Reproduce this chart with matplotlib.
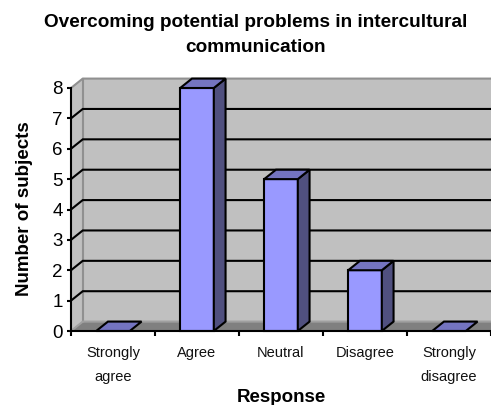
import matplotlib
matplotlib.use('Agg')
import matplotlib.pyplot as plt
from matplotlib.patches import Polygon

categories = ['Strongly\nagree', 'Agree', 'Neutral', 'Disagree', 'Strongly\ndisagree']
subjects = [0, 8, 5, 2, 0]
y_ticks = [0, 1, 2, 3, 4, 5, 6, 7, 8]

W, H = 491, 405
plt.rcParams['font.family'] = ['Liberation Sans', 'DejaVu Sans']

# 3d look: depth offset in data units
dx = 0.14
dy = 0.31
bar_w = 0.4
lw = 1.5

fig = plt.figure(figsize=(W / 100, H / 100), dpi=100)
ax = fig.add_axes([71 / W, 1 - 331 / H, 420 / W, 243 / H])
ax.set_xlim(-0.5, 4.5)
ax.set_ylim(0, 8)


def poly(pts, fc, ec='none', lw=0, z=1):
    ax.add_patch(Polygon(pts, closed=True, fc=fc, ec=ec, lw=lw, zorder=z,
                         clip_on=False, joinstyle='miter'))


x0, x1 = -0.5, 4.5
# back wall, side wall, floor
poly([(x0 + dx, dy), (x1 + dx, dy), (x1 + dx, 8 + dy), (x0 + dx, 8 + dy)], '#c0c0c0', z=1)
poly([(x0, 0), (x0 + dx, dy), (x0 + dx, 8 + dy), (x0, 8)], '#c0c0c0', z=1)
poly([(x0, 0), (x1, 0), (x1 + dx, dy), (x0 + dx, dy)], '#808080', z=1)
# wall edges
ax.plot([x0, x0 + dx, x1 + dx], [8, 8 + dy, 8 + dy], color='#909090', lw=lw, clip_on=False, zorder=2)
ax.plot([x0 + dx, x0 + dx], [dy, 8 + dy], color='#909090', lw=lw, clip_on=False, zorder=2)
ax.plot([x0, x0 + dx, x1 + dx], [0, dy, dy], color='#a0a0a0', lw=lw, clip_on=False, zorder=2)

# gridlines
for v in y_ticks[1:-1]:
    ax.plot([x0, x0 + dx, x1 + dx], [v, v + dy, v + dy], color='black', lw=lw,
            clip_on=False, zorder=3, solid_joinstyle='miter')

# bars
for i, v in enumerate(subjects):
    l, r = i - bar_w / 2, i + bar_w / 2
    if v > 0:
        poly([(l, 0), (r, 0), (r, v), (l, v)], '#9999ff', 'black', lw, 4)
        poly([(r, 0), (r + dx, dy), (r + dx, v + dy), (r, v)], '#50507f', 'black', lw, 4)
    poly([(l, v), (r, v), (r + dx, v + dy), (l + dx, v + dy)], '#7474c0', 'black', lw, 4)

# axes and ticks
for s in ['top', 'right']:
    ax.spines[s].set_visible(False)
for s in ['left', 'bottom']:
    ax.spines[s].set_linewidth(lw)
    ax.spines[s].set_zorder(6)
ax.patch.set_visible(False)

ax.set_yticks(y_ticks)
ax.set_xticks([x0 + i for i in range(6)])
ax.set_xticklabels([])
ax.set_xticks(range(5), minor=True)
ax.set_xticklabels(categories, minor=True, fontsize=10.5, color='#111111', linespacing=1.95)
ax.tick_params(axis='x', which='major', length=3.5, width=lw, direction='out')
ax.tick_params(axis='x', which='minor', length=0, pad=10.5)
ax.tick_params(axis='y', length=3, width=lw, direction='out', labelsize=13.5, pad=3)

fig.text(256 / W, 1 - 35 / H, 'Overcoming potential problems in intercultural\ncommunication',
         ha='center', va='center', fontsize=13.7, fontweight='bold', linespacing=1.55)
fig.text(25 / W, 1 - 209 / H, 'Number of subjects', rotation=90, ha='center', va='center',
         fontsize=13.5, fontweight='bold')
fig.text(281 / W, 1 - 397 / H, 'Response', ha='center', va='center',
         fontsize=13.5, fontweight='bold')

fig.savefig('out.png', dpi=100)
